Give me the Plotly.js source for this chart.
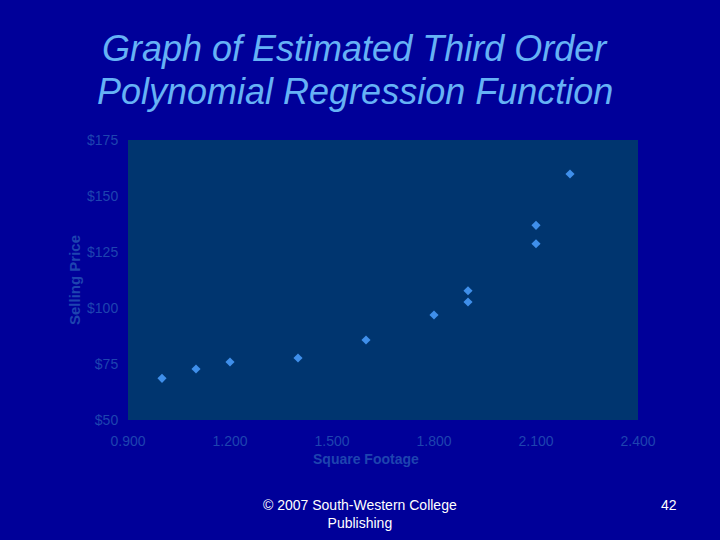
<!DOCTYPE html>
<html>
<head>
<meta charset="utf-8">
<script src="https://cdn.plot.ly/plotly-3.0.1.min.js"></script>
<style>html,body{margin:0;padding:0;background:#000099;}#chart{width:720px;height:540px;}</style>
</head>
<body>
<div id="chart"></div>
<script>
const squareFootage = [1.0, 1.1, 1.2, 1.4, 1.6, 1.8, 1.9, 1.9, 2.1, 2.1, 2.2];
const sellingPrice = [68.6, 72.8, 75.9, 77.7, 85.7, 96.9, 107.7, 102.7, 136.9, 128.7, 159.8];
const xTicks = [0.9, 1.2, 1.5, 1.8, 2.1, 2.4];
const yTicks = [50, 75, 100, 125, 150, 175];
const yTickLabels = yTicks.map(v => '$' + v);

const tickColor = '#1e44b0';
const FONT = 'Liberation Sans, Arial, sans-serif';
const trace = {
  x: squareFootage, y: sellingPrice, type: 'scatter', mode: 'markers',
  marker: {symbol: 'diamond', size: 7, color: '#3f8fea'},
  hoverinfo: 'skip'
};
// paper coords helpers (plot area: x 128..638, y 140..420)
const px = x => (x - 128) / 510;
const py = y => (420 - y) / 280;
const layout = {
  width: 720, height: 540,
  paper_bgcolor: '#000099', plot_bgcolor: '#00356f',
  margin: {l: 128, r: 82, t: 140, b: 120},
  showlegend: false,
  xaxis: {
    range: [0.9, 2.4], tickvals: xTicks, tickformat: '.3f',
    showgrid: false, zeroline: false, showline: false,
    ticks: 'outside', ticklen: 8, tickcolor: 'rgba(0,0,0,0)',
    tickfont: {family: FONT, size: 14, color: tickColor}
  },
  yaxis: {
    range: [50, 175], tickvals: yTicks, ticktext: yTickLabels,
    showgrid: false, zeroline: false, showline: false,
    ticks: 'outside', ticklen: 6, tickcolor: 'rgba(0,0,0,0)',
    tickfont: {family: FONT, size: 14, color: tickColor},
    title: {text: '<b>Selling Price</b>', standoff: 2,
      font: {family: FONT, size: 15, color: tickColor}}
  },
  annotations: [
    {text: 'Graph of Estimated Third Order', xref: 'paper', yref: 'paper',
     x: px(355), y: py(48), xanchor: 'center', yanchor: 'middle', showarrow: false,
     font: {family: FONT, size: 36, color: '#66b2f5', style: 'italic'}},
    {text: 'Polynomial Regression Function', xref: 'paper', yref: 'paper',
     x: px(355), y: py(92), xanchor: 'center', yanchor: 'middle', showarrow: false,
     font: {family: FONT, size: 36, color: '#66b2f5', style: 'italic'}},
    {text: '<b>Square Footage</b>', xref: 'paper', yref: 'paper',
     x: px(366), y: py(459), xanchor: 'center', yanchor: 'middle', showarrow: false,
     font: {family: FONT, size: 14, color: tickColor}},
    {text: '© 2007 South-Western College<br>Publishing', xref: 'paper', yref: 'paper',
     x: px(360), y: py(495), xanchor: 'center', yanchor: 'top',
     showarrow: false, font: {family: FONT, size: 14, color: '#ffffff'}},
    {text: '42', xref: 'paper', yref: 'paper',
     x: px(669), y: py(495), xanchor: 'center', yanchor: 'top',
     showarrow: false, font: {family: FONT, size: 14, color: '#ffffff'}}
  ]
};
Plotly.newPlot('chart', [trace], layout, {displayModeBar: false, staticPlot: true});
</script>
</body>
</html>
